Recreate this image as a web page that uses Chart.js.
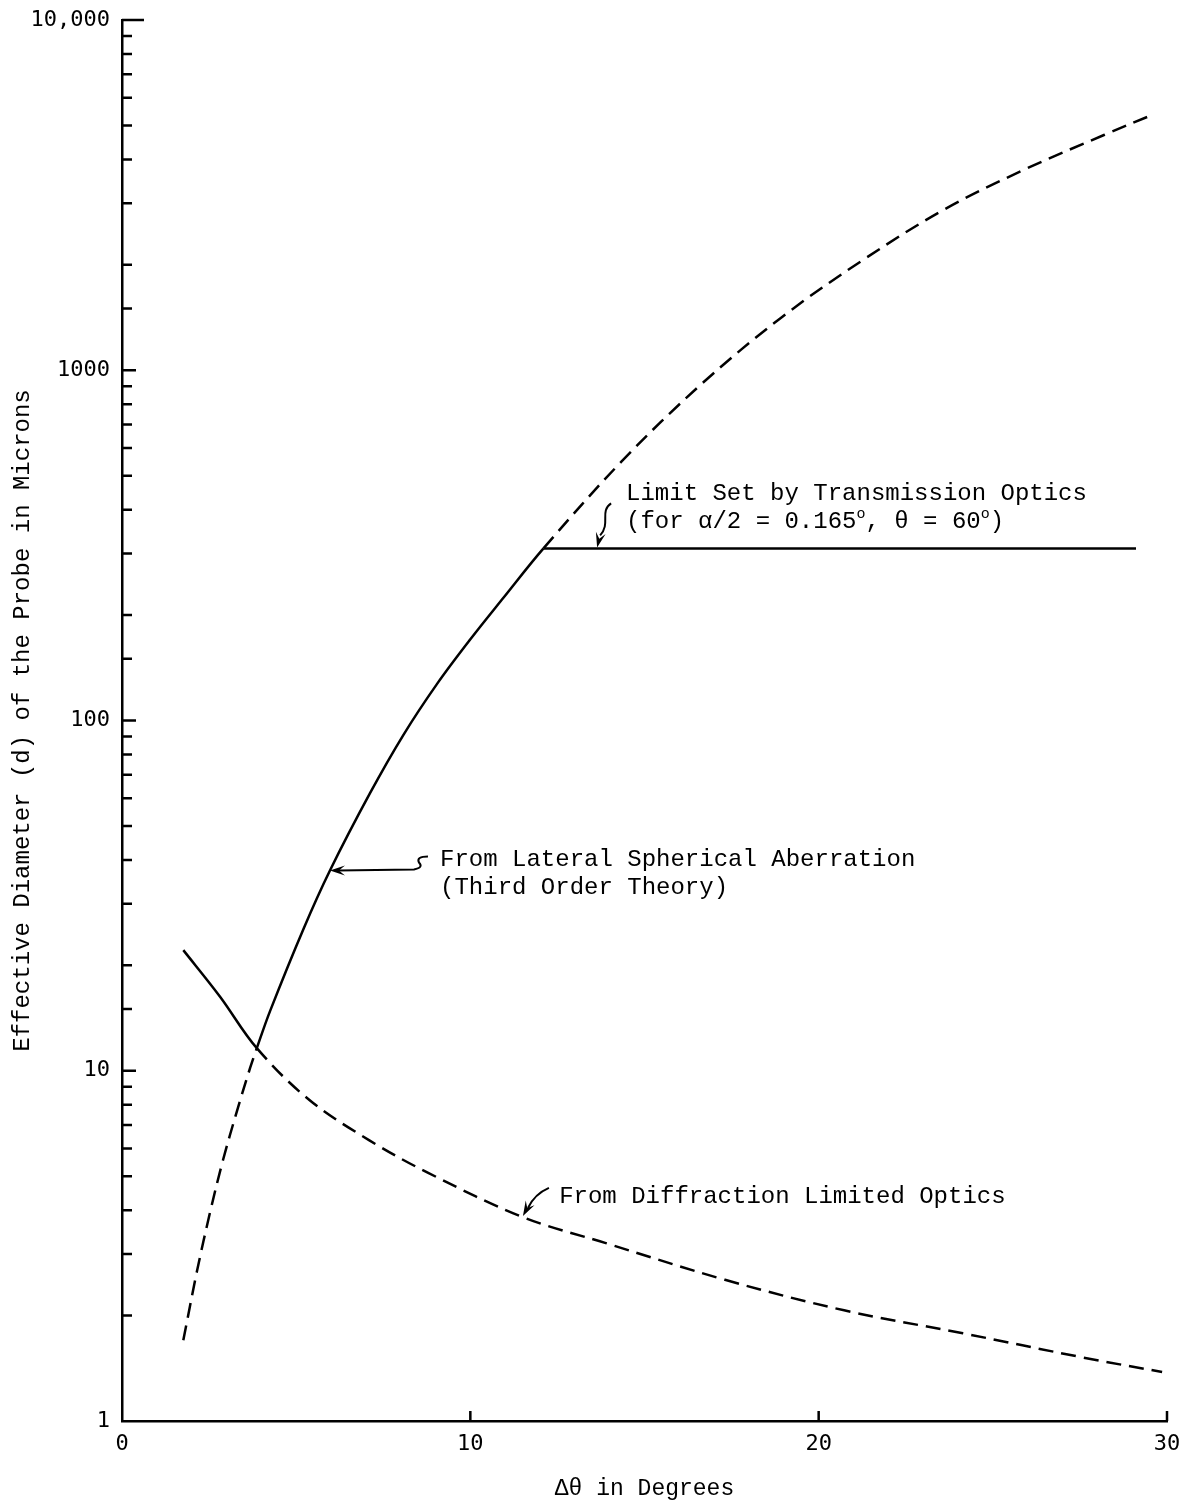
<!DOCTYPE html>
<html><head><meta charset="utf-8">
<script src="https://cdn.jsdelivr.net/npm/chart.js@4.4.0/dist/chart.umd.min.js"></script>
<style>html,body{margin:0;padding:0;background:#fff;} #wrap{width:1182px;height:1506px;}</style>
</head><body><div id="wrap"><canvas id="c" width="1182" height="1506"></canvas></div>
<script>
// ---- Data ----
const sphericalX = [1.76, 2.15, 2.53, 2.90, 3.33, 3.68, 3.87, 4.25, 5.21, 5.97, 7.12, 8.08, 9.04, 9.99, 10.95, 12.1, 14.35, 16.66, 18.96, 21.27, 23.58, 25.88, 28.19, 29.57];
const sphericalY = [1.7, 2.67, 3.95, 5.56, 7.85, 10.2, 11.6, 14.8, 25.4, 37.3, 62, 91, 127, 170, 224, 310, 550, 918, 1422, 2064, 2868, 3730, 4696, 5356];
const sphericalSolidRange = [3.87, 12.1];
const diffractionX = [1.76, 2.81, 3.87, 5.38, 7.09, 8.79, 11.51, 13.89, 17.31, 20.73, 24.14, 27.56, 29.86];
const diffractionY = [22.1, 16.3, 11.6, 8.25, 6.34, 5.11, 3.82, 3.22, 2.53, 2.07, 1.78, 1.52, 1.38];
const diffractionSolidRange = [1.76, 3.87];
const limitX = [12.1, 29.11];
const limitY = [310, 310];
const xTickValues = [0, 10, 20, 30];
const xTickLabels = ['0', '10', '20', '30'];
const yTickValues = [1, 10, 100, 1000, 10000];
const yTickLabels = ['1', '10', '100', '1000', '10,000'];

// ---- helpers ----
const pts = (xs, ys) => xs.map((x, i) => ({x: x, y: ys[i]}));
const DASH = [15, 8];
const segDash = r => ctx => (ctx.p0.parsed.x >= r[0] - 1e-6 && ctx.p1.parsed.x <= r[1] + 1e-6) ? [] : DASH;
const TXT = '24px "Liberation Mono", "DejaVu Sans Mono", monospace';
const SUP = '15px "Liberation Mono", "DejaVu Sans Mono", monospace';

const notes = [
  {x: 14.47, y: 426, lines: [[['Limit Set by Transmission Optics', 0]],
                             [['(for α/2 = 0.165', 0], ['o', 1], [', θ = 60', 0], ['o', 1], [')', 0]]]},
  {x: 9.13, y: 38.4, lines: [[['From Lateral Spherical Aberration', 0]], [['(Third Order Theory)', 0]]]},
  {x: 12.55, y: 4.19, lines: [[['From Diffraction Limited Optics', 0]]]}
];

function head(ctx, tx, ty, fx, fy) {
  const a = Math.atan2(ty - fy, tx - fx);
  const L = 15, W = 5;
  ctx.beginPath();
  ctx.moveTo(tx, ty);
  ctx.lineTo(tx - L * Math.cos(a) + W * Math.sin(a), ty - L * Math.sin(a) - W * Math.cos(a));
  ctx.lineTo(tx - 0.6 * L * Math.cos(a), ty - 0.6 * L * Math.sin(a));
  ctx.lineTo(tx - L * Math.cos(a) - W * Math.sin(a), ty - L * Math.sin(a) + W * Math.cos(a));
  ctx.closePath();
  ctx.fill();
}

const innerTicks = {
  id: 'innerTicks',
  afterDraw(chart) {
    const {ctx, chartArea: a, scales: {x, y}} = chart;
    ctx.save();
    ctx.strokeStyle = '#000';
    ctx.lineWidth = 2.5;
    ctx.beginPath();
    y.ticks.forEach(t => {
      if (t.value <= y.min) return;
      const py = y.getPixelForValue(t.value);
      const lg = Math.log10(t.value);
      const major = Math.abs(lg - Math.round(lg)) < 1e-9;
      const len = t.value >= y.max ? 22 : (major ? 14 : 10);
      ctx.moveTo(a.left, py);
      ctx.lineTo(a.left + len, py);
    });
    xTickValues.forEach(v => {
      if (v <= x.min) return;
      const px = x.getPixelForValue(v);
      ctx.moveTo(px, a.bottom);
      ctx.lineTo(px, a.bottom - 10);
    });
    ctx.stroke();
    ctx.restore();
  }
};

const annotate = {
  id: 'annotate',
  afterDatasetsDraw(chart) {
    const {ctx, scales: {x, y}} = chart;
    ctx.save();
    ctx.fillStyle = '#000';
    ctx.strokeStyle = '#000';
    ctx.textBaseline = 'alphabetic';
    ctx.textAlign = 'left';
    notes.forEach(n => {
      const px = x.getPixelForValue(n.x), py = y.getPixelForValue(n.y);
      n.lines.forEach((line, li) => {
        let cx = px;
        const by = py + li * 28;
        line.forEach(([s, sup]) => {
          ctx.font = sup ? SUP : TXT;
          ctx.fillText(s, cx, sup ? by - 10 : by);
          cx += ctx.measureText(s).width;
        });
      });
    });
    ctx.lineWidth = 2;
    // arrow 1: limit line
    let tx = x.getPixelForValue(13.64), ty = y.getPixelForValue(310) - 1;
    ctx.beginPath();
    ctx.moveTo(tx + 14, ty - 44);
    ctx.bezierCurveTo(tx + 2, ty - 36, tx + 14, ty - 24, tx + 3, ty - 12);
    ctx.stroke();
    head(ctx, tx, ty, tx + 3, ty - 12);
    // arrow 2: spherical aberration
    tx = x.getPixelForValue(5.97); ty = y.getPixelForValue(37.3);
    ctx.beginPath();
    ctx.moveTo(tx + 8, ty);
    ctx.lineTo(tx + 84, ty - 1);
    ctx.quadraticCurveTo(tx + 94, ty - 3, tx + 89, ty - 8);
    ctx.quadraticCurveTo(tx + 86, ty - 14, tx + 98, ty - 14);
    ctx.stroke();
    head(ctx, tx, ty, tx + 20, ty);
    // arrow 3: diffraction
    tx = x.getPixelForValue(11.51); ty = y.getPixelForValue(3.85);
    ctx.beginPath();
    ctx.moveTo(tx + 26, ty - 28);
    ctx.quadraticCurveTo(tx + 12, ty - 22, tx + 5, ty - 8);
    ctx.stroke();
    head(ctx, tx, ty, tx + 6, ty - 11);
    ctx.restore();
  }
};

new Chart(document.getElementById('c'), {
  type: 'line',
  data: {
    datasets: [
      {label: 'Lateral Spherical Aberration', data: pts(sphericalX, sphericalY),
       borderColor: '#000', borderWidth: 2.5, pointRadius: 0, fill: false,
       tension: 0.35, segment: {borderDash: segDash(sphericalSolidRange)}},
      {label: 'Diffraction Limited Optics', data: pts(diffractionX, diffractionY),
       borderColor: '#000', borderWidth: 2.5, pointRadius: 0, fill: false,
       tension: 0.35, segment: {borderDash: segDash(diffractionSolidRange)}},
      {label: 'Limit Set by Transmission Optics', data: pts(limitX, limitY),
       borderColor: '#000', borderWidth: 2.5, pointRadius: 0, fill: false}
    ]
  },
  options: {
    responsive: false,
    animation: false,
    devicePixelRatio: 1,
    layout: {padding: {left: 0, right: 15, top: 20, bottom: 0}},
    plugins: {legend: {display: false}, tooltip: {enabled: false}},
    scales: {
      x: {
        type: 'linear', min: 0, max: 30,
        afterFit: s => { s.height = 85; s.paddingLeft = 0; s.paddingRight = 0; },
        grid: {display: false, drawTicks: false},
        border: {display: true, color: '#000', width: 2.5},
        ticks: {stepSize: 10, padding: 10, color: '#000', autoSkip: false, maxRotation: 0,
                font: {family: '"DejaVu Sans Mono"', size: 22},
                callback: v => { const i = xTickValues.indexOf(v); return i >= 0 ? xTickLabels[i] : ''; }},
        title: {display: true, text: 'Δθ in Degrees', color: '#000',
                font: {family: '"Liberation Mono"', size: 23}, padding: {top: 0, bottom: 3}}
      },
      y: {
        type: 'logarithmic', min: 1, max: 10000,
        afterFit: s => { s.width = 122; s.paddingTop = 0; s.paddingBottom = 0; },
        grid: {display: false, drawTicks: false},
        border: {display: true, color: '#000', width: 2.5},
        ticks: {padding: 12, color: '#000', autoSkip: false,
                font: {family: '"DejaVu Sans Mono"', size: 22},
                callback: v => { const i = yTickValues.findIndex(t => Math.abs(t - v) < 1e-6); return i >= 0 ? yTickLabels[i] : ''; }},
        title: {display: true, text: 'Effective Diameter (d) of the Probe in Microns', color: '#000',
                font: {family: '"Liberation Mono"', size: 24}, padding: {top: 8, bottom: 0}}
      }
    }
  },
  plugins: [innerTicks, annotate]
});
</script>
</body></html>
